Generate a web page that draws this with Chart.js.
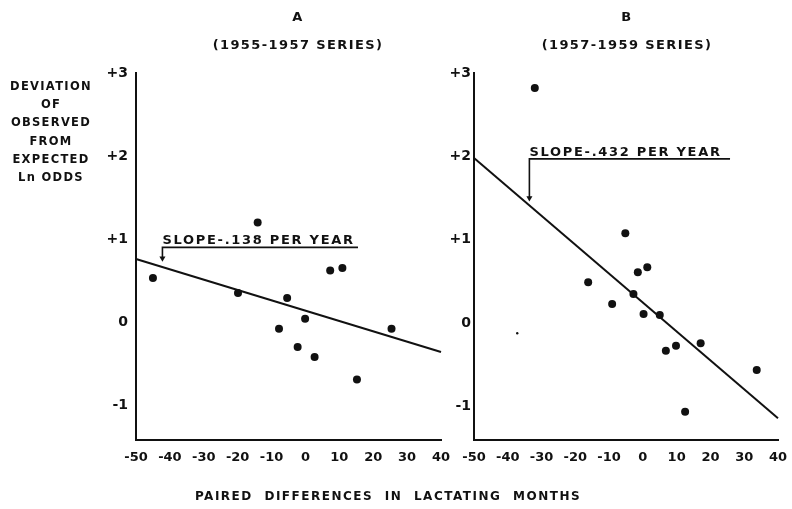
<!DOCTYPE html>
<html>
<head>
<meta charset="utf-8">
<title>Deviation of observed from expected Ln odds</title>
<script src="https://cdn.jsdelivr.net/npm/chart.js@4.4.1/dist/chart.umd.min.js"></script>
<style>
    body {
        margin: 0;
        background: #fff;
    }
    #wrap {
        position: relative;
        width: 792px;
        height: 509px;
        overflow: hidden;
        font-family: "DejaVu Sans", sans-serif;
        font-weight: bold;
        color: #111;
    }
    canvas {
        position: absolute;
        top: 0;
    }
    .lbl {
        position: absolute;
        white-space: nowrap;
        text-align: center;
    }
</style>
</head>
<body>
<div id="wrap">
    <canvas id="panelA" width="450" height="509" style="left:0;width:450px;height:509px"></canvas>
    <canvas id="panelB" width="342" height="509" style="left:450px;width:342px;height:509px"></canvas>

    <div class="lbl" id="titleA" style="left:198px;top:3px;width:200px;font-size:13px;line-height:28px;letter-spacing:1.4px"></div>
    <div class="lbl" id="titleB" style="left:527px;top:3px;width:200px;font-size:13px;line-height:28px;letter-spacing:1.4px"></div>
    <div class="lbl" id="yTitle" style="left:0;top:77px;width:102px;font-size:11.5px;line-height:18.2px;letter-spacing:1.3px"></div>
    <div class="lbl" id="xTitle" style="left:138px;top:489px;width:500px;font-size:12px;letter-spacing:1.5px;word-spacing:6px"></div>
</div>

<script>
// axis ticks
const xTicks = [-50, -40, -30, -20, -10, 0, 10, 20, 30, 40];
const yTicks = [-1, 0, 1, 2, 3];

// text
const titleA = ['A', '(1955-1957 SERIES)'];
const titleB = ['B', '(1957-1959 SERIES)'];
const yTitle = ['DEVIATION', 'OF', 'OBSERVED', 'FROM', 'EXPECTED', 'Ln ODDS'];
const xTitle = 'PAIRED DIFFERENCES IN LACTATING MONTHS';

// panel A: 1955-1957 series
const monthsA = [-45.0, -19.9, -14.1, -7.8, -5.4, -2.3, -0.1, 2.7, 7.3, 10.9, 15.2, 25.4];
const devA    = [0.53, 0.35, 1.20, -0.08, 0.29, -0.30, 0.04, -0.42, 0.62, 0.65, -0.69, -0.08];
const fitMonthsA = [-50, 40];
const fitDevA    = [0.76, -0.36];
const slopeLabelA  = 'SLOPE-.138 PER YEAR';
const slopeMonthsA = [15.5, -42.2, -42.2];
const slopeDevA    = [0.90, 0.90, 0.77];

// panel B: 1957-1959 series
const monthsB = [-32.0, -16.2, -9.1, -5.2, -2.8, -1.5, 0.2, 1.3, 5.0, 6.8, 9.8, 12.5, 17.1, 33.7];
const devB    = [2.82, 0.49, 0.23, 1.08, 0.35, 0.61, 0.11, 0.67, 0.10, -0.33, -0.27, -1.06, -0.24, -0.56];
const fitMonthsB = [-50, 40];
const fitDevB    = [1.98, -1.14];
const slopeLabelB  = 'SLOPE-.432 PER YEAR';
const slopeMonthsB = [25.8, -33.6, -33.6];
const slopeDevB    = [1.97, 1.97, 1.50];
const speckMonthsB = [-37.2];
const speckDevB    = [-0.12];

const INK = '#111';
const FONT = '"DejaVu Sans", sans-serif';

document.getElementById('titleA').innerHTML = titleA.join('<br>');
document.getElementById('titleB').innerHTML = titleB.join('<br>');
document.getElementById('yTitle').innerHTML = yTitle.join('<br>');
document.getElementById('xTitle').textContent = xTitle;

function pts(xs, ys) {
    return xs.map((x, i) => ({ x: x, y: ys[i] }));
}

// writes the slope label just above the underline of the pointer
const slopeText = {
    id: 'slopeText',
    afterDatasetsDraw(chart, args, opts) {
        const { ctx, scales } = chart;
        ctx.save();
        ctx.font = 'bold 13px ' + FONT;
        ctx.letterSpacing = '1.7px';
        ctx.fillStyle = INK;
        ctx.textBaseline = 'alphabetic';
        ctx.fillText(opts.text, scales.x.getPixelForValue(opts.x), scales.y.getPixelForValue(opts.y) - 3);
        ctx.restore();
    }
};

function makePanel(id, p) {
    const datasets = [
        {
            data: pts(p.months, p.dev),
            backgroundColor: INK,
            borderWidth: 0,
            pointRadius: 4,
            clip: false
        },
        {
            data: pts(p.fitMonths, p.fitDev),
            showLine: true,
            borderColor: INK,
            borderWidth: 2,
            pointRadius: 0,
            clip: false
        },
        {
            data: pts(p.slopeMonths, p.slopeDev),
            showLine: true,
            borderColor: INK,
            borderWidth: 1.6,
            backgroundColor: INK,
            pointStyle: 'triangle',
            pointRotation: 180,
            pointRadius: ctx => ctx.dataIndex === 2 ? 3.5 : 0,
            pointBorderWidth: 0,
            clip: false
        }
    ];
    if (p.speckMonths) {
        datasets.push({
            data: pts(p.speckMonths, p.speckDev),
            backgroundColor: INK,
            borderWidth: 0,
            pointRadius: 1.2
        });
    }

    return new Chart(document.getElementById(id), {
        type: 'scatter',
        data: { datasets: datasets },
        plugins: [slopeText],
        options: {
            responsive: false,
            animation: false,
            layout: { padding: { top: 73, right: p.padRight, left: 0, bottom: 0 } },
            plugins: {
                legend: { display: false },
                tooltip: { enabled: false },
                slopeText: { text: p.label, x: p.slopeMonths[1], y: p.slopeDev[1] }
            },
            scales: {
                x: {
                    type: 'linear',
                    min: -50,
                    max: 40,
                    afterBuildTicks: s => { s.ticks = xTicks.map(v => ({ value: v })); },
                    afterFit: s => { s.height = 69; s.paddingLeft = 0; s.paddingRight = 0; },
                    grid: { display: false, drawTicks: false },
                    border: { display: true, color: INK, width: 2 },
                    ticks: {
                        color: INK,
                        padding: 10,
                        maxRotation: 0,
                        autoSkip: false,
                        font: { family: FONT, size: 13, weight: 'bold' },
                        callback: v => String(v)
                    }
                },
                y: {
                    type: 'linear',
                    min: p.yMin,
                    max: 3,
                    afterBuildTicks: s => { s.ticks = yTicks.map(v => ({ value: v })); },
                    afterFit: s => { s.width = p.yWidth; s.paddingTop = 0; s.paddingBottom = 0; },
                    grid: { display: false, drawTicks: false },
                    border: { display: true, color: INK, width: 2 },
                    ticks: {
                        color: INK,
                        padding: p.yPad,
                        font: { family: FONT, size: 14, weight: 'bold' },
                        callback: v => v > 0 ? '+' + v : String(v)
                    }
                }
            }
        }
    });
}

makePanel('panelA', {
    months: monthsA, dev: devA,
    fitMonths: fitMonthsA, fitDev: fitDevA,
    slopeMonths: slopeMonthsA, slopeDev: slopeDevA, label: slopeLabelA,
    yMin: -1.42, yWidth: 136, yPad: 8, padRight: 9
});

makePanel('panelB', {
    months: monthsB, dev: devB,
    fitMonths: fitMonthsB, fitDev: fitDevB,
    slopeMonths: slopeMonthsB, slopeDev: slopeDevB, label: slopeLabelB,
    speckMonths: speckMonthsB, speckDev: speckDevB,
    yMin: -1.40, yWidth: 24, yPad: 3, padRight: 14
});
</script>
</body>
</html>
